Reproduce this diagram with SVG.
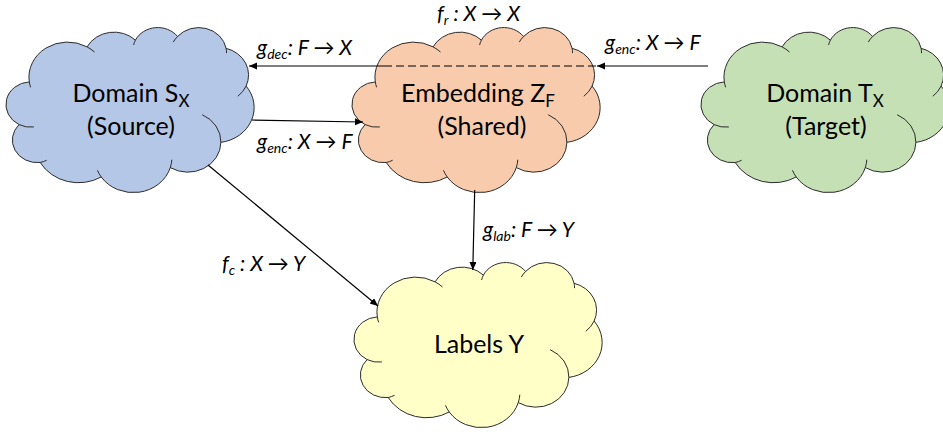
<svg xmlns="http://www.w3.org/2000/svg" xmlns:xlink="http://www.w3.org/1999/xlink" width="943" height="433" viewBox="0 0 943 433">
<style>
.cloud-outer{stroke:#2b2b2b;stroke-width:1}
.cloud-inner{fill:none;stroke:#2b2b2b;stroke-width:1}
.blue{fill:#B4C7E7}
.orange{fill:#F8CBAD}
.green{fill:#C5E0B4}
.yellow{fill:#FFFFC8}
.node-text{font-family:Lato,"Open Sans","DejaVu Sans",sans-serif;font-size:25px;fill:#000;text-anchor:middle}
.sub{font-size:17px}
.edge{fill:none;stroke:#000;stroke-width:1.2}
.dashed{stroke-dasharray:8 4}
.elabel{font-family:Lato,"Open Sans","DejaVu Sans",sans-serif;font-style:italic;font-size:21px;fill:#000}
.esub{font-size:14px}
</style>
<defs>
<g id="cloud">
<path class="cloud-outer" d="M22.30,54.88 A38.61,35.10 0 0 1 80.07,19.87 A30.49,27.76 0 0 1 128.40,13.11 A24.96,22.71 0 0 1 170.58,9.48 A27.77,25.19 0 0 1 219.09,21.30 A30.49,27.78 0 0 1 239.11,59.05 A38.74,35.21 0 0 1 213.88,115.37 A33.08,30.05 0 0 1 163.29,140.61 A38.61,35.20 0 0 1 94.24,149.98 A44.14,40.27 0 0 1 33.19,135.49 A24.93,22.60 0 0 1 12.09,97.59 A24.84,22.71 0 0 1 22.30,54.88 Z"/>
<path class="cloud-inner" d="M26.83,99.98 A24.84,22.71 0 0 1 12.09,97.59 M39.61,133.29 A24.93,22.60 0 0 1 33.19,135.49 M94.24,149.98 A38.61,35.20 0 0 1 90.43,143.33 M164.82,132.73 A38.61,35.20 0 0 1 163.29,140.61 M195.14,87.67 A33.08,30.05 0 0 1 213.88,115.37 M239.11,59.05 A30.49,27.78 0 0 1 230.82,69.27 M219.09,21.30 A27.77,25.19 0 0 1 219.53,26.13 M166.26,15.09 A27.77,25.19 0 0 1 170.58,9.48 M126.59,18.03 A24.96,22.71 0 0 1 128.40,13.11 M80.07,19.87 A38.61,35.10 0 0 1 87.51,25.02 M23.60,60.30 A38.61,35.10 0 0 1 22.30,54.88"/>
</g>
<marker id="arrow" markerUnits="userSpaceOnUse" markerWidth="10" markerHeight="8" refX="8" refY="3.5" orient="auto">
<path d="M0,0 L8,3.5 L0,7 Z" fill="#000"/>
</marker>
</defs>

<g id="node-source">
<use xlink:href="#cloud" href="#cloud" class="blue" transform="translate(7,27)"/>
<text class="node-text" x="131" y="102">Domain S<tspan class="sub" dy="5">X</tspan></text>
<text class="node-text" x="131" y="135">(Source)</text>
</g>

<g id="node-embedding">
<use xlink:href="#cloud" href="#cloud" class="orange" transform="translate(353,27)"/>
<text class="node-text" x="478" y="102">Embedding Z<tspan class="sub" dy="5">F</tspan></text>
<text class="node-text" x="482" y="135">(Shared)</text>
</g>

<g id="node-target">
<use xlink:href="#cloud" href="#cloud" class="green" transform="translate(702,27)"/>
<text class="node-text" x="825" y="102">Domain T<tspan class="sub" dy="5">X</tspan></text>
<text class="node-text" x="826" y="135">(Target)</text>
</g>

<g id="node-labels">
<use xlink:href="#cloud" href="#cloud" class="yellow" transform="translate(355,262)"/>
<text class="node-text" x="479" y="353">Labels Y</text>
</g>

<g id="connectors">
<line class="edge" x1="386" y1="66" x2="249" y2="66" marker-end="url(#arrow)"/>
<line class="edge dashed" x1="596" y1="66" x2="386" y2="66"/>
<line class="edge" x1="708" y1="66" x2="597" y2="66" marker-end="url(#arrow)"/>
<line class="edge" x1="252" y1="120" x2="363" y2="122" marker-end="url(#arrow)"/>
<line class="edge" x1="474.7" y1="190" x2="472.8" y2="270" marker-end="url(#arrow)"/>
<line class="edge" x1="208" y1="165" x2="378" y2="306" marker-end="url(#arrow)"/>
<text class="elabel" x="257" y="55">g<tspan class="esub" dy="4">dec</tspan><tspan dy="-4">: F → X</tspan></text>
<text class="elabel" x="257" y="149">g<tspan class="esub" dy="4">enc</tspan><tspan dy="-4">: X → F</tspan></text>
<text class="elabel" x="437" y="21" font-size="20">f<tspan class="esub" dy="4">r</tspan><tspan dy="-4"> : X → X</tspan></text>
<text class="elabel" x="605" y="50">g<tspan class="esub" dy="4">enc</tspan><tspan dy="-4">: X → F</tspan></text>
<text class="elabel" x="483" y="237">g<tspan class="esub" dy="4">lab</tspan><tspan dy="-4">: F → Y</tspan></text>
<text class="elabel" x="222" y="271">f<tspan class="esub" dy="4">c</tspan><tspan dy="-4"> : X → Y</tspan></text>
</g>
</svg>
